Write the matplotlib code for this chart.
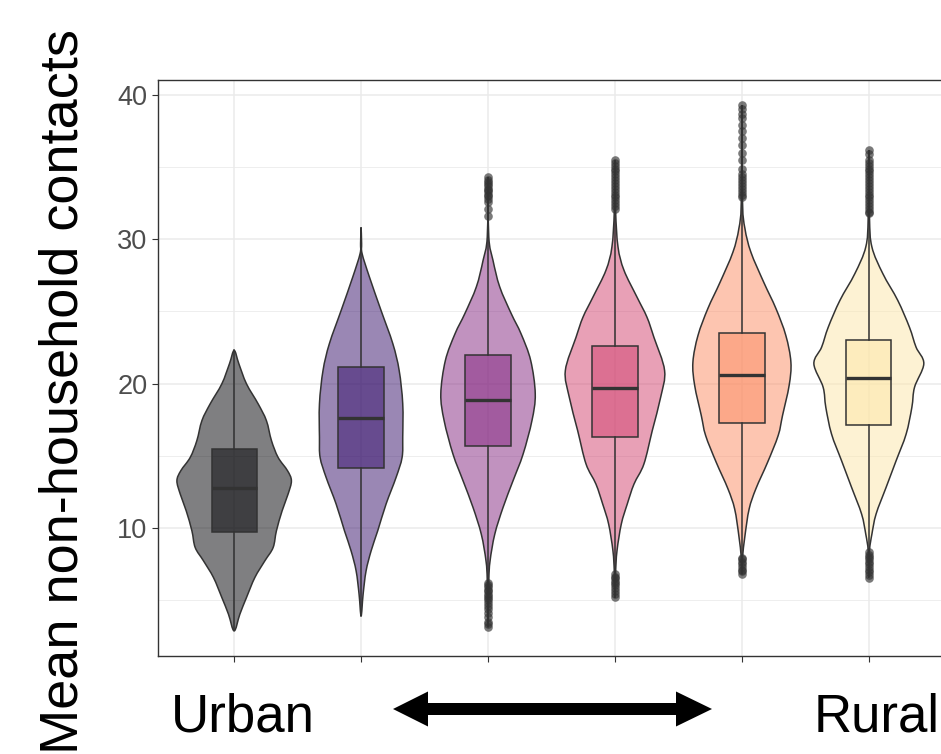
import matplotlib
matplotlib.use("Agg")
import matplotlib.pyplot as plt
from matplotlib.patches import FancyArrow, PathPatch
from matplotlib.path import Path
from matplotlib.colors import to_rgba
import numpy as np

plt.rcParams['font.family'] = ['Liberation Sans', 'DejaVu Sans']

# six settlement classes, urban (1) to rural (6)
positions = [1, 2, 3, 4, 5, 6]

# violin outlines: y values and half-widths (x units)
violin_y = [
    [2.85, 4.01, 5.16, 6.55, 7.71, 8.63, 9.79, 11.18, 12.34, 13.26, 13.96, 14.88, 16.04, 17.43, 18.59, 19.98, 21.37, 22.29],
    [3.89, 5.4, 7.0, 8.4, 9.79, 11.65, 13.5, 14.88, 16.27, 18.6, 20.9, 22.76, 25.07, 27.4, 29.0, 29.7, 30.81],
    [3.1, 6.3, 7.7, 9.55, 11.4, 13.26, 15.1, 17.43, 19.28, 21.6, 23.45, 24.84, 26.7, 28.54, 30.16, 34.3],
    [5.16, 6.9, 8.4, 10.26, 11.65, 13.03, 14.42, 16.74, 19.05, 20.9, 23.2, 24.6, 26.0, 27.85, 29.47, 32.0, 35.5],
    [6.78, 7.94, 9.44, 11.3, 12.7, 14.53, 16.4, 17.78, 19.86, 21.48, 23.33, 25.2, 27.0, 29.1, 30.74, 32.6, 39.3],
    [6.55, 8.4, 9.55, 10.95, 12.8, 14.65, 16.5, 18.35, 19.74, 21.37, 22.52, 23.9, 25.76, 27.62, 29.47, 31.55, 36.18],
]
violin_hw = [
    [0.0, 0.045, 0.097, 0.163, 0.242, 0.307, 0.333, 0.378, 0.425, 0.451, 0.42, 0.346, 0.294, 0.254, 0.189, 0.097, 0.037, 0.0],
    [0.0, 0.016, 0.039, 0.079, 0.131, 0.197, 0.276, 0.323, 0.328, 0.328, 0.30, 0.25, 0.157, 0.065, 0.008, 0.004, 0.0],
    [0.0, 0.006, 0.016, 0.053, 0.118, 0.197, 0.276, 0.346, 0.372, 0.336, 0.26, 0.183, 0.092, 0.039, 0.006, 0.0],
    [0.0, 0.005, 0.016, 0.05, 0.097, 0.15, 0.228, 0.294, 0.36, 0.391, 0.307, 0.252, 0.173, 0.071, 0.024, 0.005, 0.0],
    [0.0, 0.005, 0.024, 0.057, 0.11, 0.202, 0.286, 0.32, 0.372, 0.386, 0.346, 0.268, 0.173, 0.071, 0.024, 0.005, 0.0],
    [0.0, 0.005, 0.024, 0.057, 0.136, 0.215, 0.294, 0.339, 0.36, 0.433, 0.372, 0.32, 0.228, 0.11, 0.024, 0.005, 0.0],
]

# box plot statistics
whis_lo = [2.9, 3.89, 6.3, 6.9, 7.94, 8.4]
q1 = [9.70, 14.14, 15.65, 16.32, 17.27, 17.13]
median = [12.76, 17.59, 18.87, 19.72, 20.6, 20.35]
q3 = [15.47, 21.13, 22.0, 22.6, 23.5, 23.03]
whis_hi = [22.3, 30.81, 31.5, 32.0, 32.6, 31.55]

outliers = [
    [],
    [],
    [31.6, 32.1, 32.6, 32.8, 33.0, 33.1, 33.3, 33.4, 33.5, 33.7, 33.8, 34.0, 34.1, 34.3,
     6.2, 6.0, 5.9, 5.7, 5.6, 5.4, 5.3, 5.1, 5.0, 4.8, 4.6, 4.4, 4.1, 3.8, 3.5, 3.3, 3.1],
    [32.1, 32.3, 32.5, 32.7, 32.9, 33.1, 33.3, 33.5, 33.7, 33.9, 34.1, 34.3, 34.5,
     34.7, 34.9, 35.1, 35.3, 35.5,
     6.8, 6.6, 6.5, 6.3, 6.2, 6.0, 5.8, 5.6, 5.4, 5.2],
    [39.3, 39.0, 38.7, 38.4, 37.9, 37.5, 37.0, 36.5, 36.0, 35.5, 34.9, 34.5, 34.3,
     34.1, 33.9, 33.7, 33.5, 33.3, 33.1, 32.9, 7.9, 7.8, 7.6, 7.5, 7.3, 7.1, 7.0, 6.8],
    [36.2, 35.9, 35.5, 35.3, 35.1, 34.9, 34.7, 34.5, 34.3, 34.1, 33.9, 33.7, 33.5,
     33.3, 33.1, 32.9, 32.7, 32.5, 32.3, 32.1, 31.9, 31.8,
     8.3, 8.1, 8.0, 7.8, 7.6, 7.5, 7.3, 7.1, 6.9, 6.7, 6.55],
]

colors = plt.cm.magma(np.linspace(0, 0.95, 6))
edge = '#333333'


def violin_path(pos, ys, hws):
    # closed outline: up the right side, down the left side, drawn as a smooth curve
    ys = np.asarray(ys)
    hws = np.asarray(hws)
    xs = np.concatenate([pos + hws, (pos - hws)[-2:0:-1]])
    yy = np.concatenate([ys, ys[-2:0:-1]])
    pts = np.column_stack([xs, yy])
    n = len(pts)
    verts = [pts[0]]
    codes = [Path.MOVETO]
    for i in range(n):
        p0, p1 = pts[i - 1], pts[i]
        p2, p3 = pts[(i + 1) % n], pts[(i + 2) % n]
        verts += [p1 + (p2 - p0) / 6, p2 - (p3 - p1) / 6, p2]
        codes += [Path.CURVE4] * 3
    verts.append(pts[0])
    codes.append(Path.CLOSEPOLY)
    return Path(verts, codes)


fig = plt.figure(figsize=(9.41, 7.54), dpi=100)
ax = fig.add_axes([158 / 941, 98 / 754, 787 / 941, 576 / 754])

for pos, ys, hws, col in zip(positions, violin_y, violin_hw, colors):
    ax.add_patch(PathPatch(violin_path(pos, ys, hws), facecolor=to_rgba(col, 0.5),
                           edgecolor=edge, linewidth=1.1, zorder=2))

stats = []
for i in range(len(positions)):
    stats.append(dict(med=median[i], q1=q1[i], q3=q3[i], whislo=whis_lo[i],
                      whishi=whis_hi[i], fliers=outliers[i]))

bp = ax.bxp(stats, positions=positions, widths=0.357, patch_artist=True,
            showcaps=False,
            boxprops=dict(edgecolor=edge, linewidth=1.1),
            whiskerprops=dict(color=edge, linewidth=1.1),
            medianprops=dict(color=edge, linewidth=2.4),
            flierprops=dict(marker='o', markerfacecolor=edge, markeredgecolor='none',
                            markersize=6.2, alpha=0.65),
            zorder=3)
for patch, col in zip(bp['boxes'], colors):
    patch.set_facecolor(to_rgba(col, 0.5))

ax.set_xlim(0.4, 6.6)
ax.set_ylim(1.11, 41.04)
ax.set_xticks(positions)
ax.set_xticklabels([])
ax.set_yticks([10, 20, 30, 40])
ax.set_yticks([5, 15, 25, 35], minor=True)
ax.grid(which='major', color='#ebebeb', linewidth=1.1)
ax.grid(which='minor', axis='y', color='#ebebeb', linewidth=0.6)
ax.set_axisbelow(True)
ax.tick_params(axis='both', which='major', length=4.5, width=0.8, color=edge,
               labelsize=19.5, labelcolor='#4d4d4d', pad=3)
ax.tick_params(axis='y', which='minor', length=0)
for sp in ax.spines.values():
    sp.set_color(edge)
    sp.set_linewidth(1.0)

fig.text(77 / 941, 0.0, 'Mean non-household contacts', rotation=90,
         rotation_mode='anchor', ha='left', va='baseline', fontsize=39)

fig.text(171 / 941, 1 - 732 / 754, 'Urban', fontsize=38, ha='left', va='baseline')
fig.text(940 / 941, 1 - 732 / 754, 'Rural', fontsize=38, ha='right', va='baseline')

# double-headed arrow between the two labels (two halves overlapping at the centre)
for x0, dx, hl in [(5.6, -1.67, 0.35), (5.45, 1.67, 0.36)]:
    fig.add_artist(FancyArrow(x0, 0.45, dx, 0, width=0.12, head_width=0.35,
                              head_length=hl, length_includes_head=True,
                              color='black', linewidth=0,
                              transform=fig.dpi_scale_trans))

fig.savefig('out.png', dpi=100)
